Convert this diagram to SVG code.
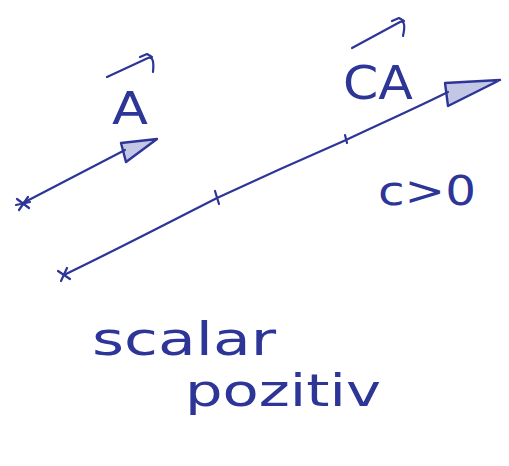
<svg xmlns="http://www.w3.org/2000/svg" width="509" height="466" viewBox="0 0 509 466">
<style>
.ink{stroke:#2d3597;stroke-width:2.2;fill:none;stroke-linecap:round;stroke-linejoin:round}
.head{stroke:#2d3597;stroke-width:2.4;fill:#3a43a8;fill-opacity:0.3;stroke-linejoin:round}
.t{font-family:"DejaVu Sans",sans-serif;fill:#2d3597}
</style>
<rect width="509" height="466" fill="#ffffff"/>
<g id="connectors">
<g id="vector-A">
<path class="ink" d="M23,203 L125,150"/>
<path class="head" d="M121,143 L157,139 L126,162 Z"/>
<path class="ink" d="M17,199 L29,208 M28,197 L19,210 M16,205 L30,202"/>
</g>
<g id="vector-CA">
<path class="ink" d="M64,275 C120,248 170,222 217,198 C260,178 300,160 346,140 C380,124 420,106 448,92"/>
<path class="head" d="M445,83 L500,80 L448,106 Z"/>
<path class="ink" d="M58,271 L70,279 M67,268 L61,281"/>
<path class="ink" d="M215,191 L219,204"/>
<path class="ink" d="M345,135 L347,143"/>
</g>
</g>
<g id="label-A">
<path class="ink" d="M107,77 L148,58 C153,56 154,62 153,72"/>
<path class="ink" d="M140,57 L147,54 L152,57"/>
<text class="t" x="112" y="124" font-size="44" textLength="36" lengthAdjust="spacingAndGlyphs">A</text>
</g>
<g id="label-CA">
<path class="ink" d="M352,48 L400,22 C405,20 405,27 403,36"/>
<path class="ink" d="M392,21 L399,18 L404,21"/>
<text class="t" x="343" y="99" font-size="46" textLength="70" lengthAdjust="spacingAndGlyphs">CA</text>
</g>
<g id="label-c">
<text class="t" x="378" y="205" font-size="40" textLength="98" lengthAdjust="spacingAndGlyphs">c&gt;0</text>
</g>
<g id="label-scalar">
<text class="t" x="92" y="355" font-size="46" textLength="184" lengthAdjust="spacingAndGlyphs">scalar</text>
<text class="t" x="185" y="406" font-size="44" textLength="196" lengthAdjust="spacingAndGlyphs">pozitiv</text>
</g>
</svg>
